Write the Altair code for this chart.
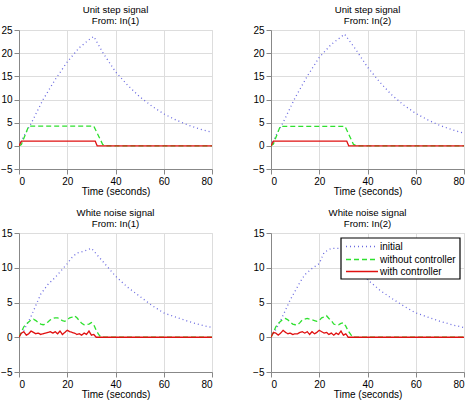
import altair as alt
import pandas as pd

FONT = "Liberation Sans"
SERIES = ["initial", "without controller", "with controller"]

# ---- Unit step, In(1)
s1_init_t = [0, 2, 5, 10, 15, 20, 25, 30, 31, 35, 40, 45, 50, 55, 60, 65, 70, 75, 80]
s1_init_y = [0, 2.1, 4.8, 10.0, 14.3, 18.1, 21.2, 23.3, 23.6, 19.9, 16.0, 13.1, 10.6, 8.6, 6.9, 5.6, 4.5, 3.6, 2.9]
s1_wo_t = [0, 1, 4, 31, 34.7, 36, 80]
s1_wo_y = [0, 0.3, 4.25, 4.25, 0.3, 0, 0]
s1_w_t = [0, 1, 31.6, 32.4, 80]
s1_w_y = [0, 1.0, 1.0, 0, 0]

# ---- Unit step, In(2)
s2_init_t = [0, 2, 5, 10, 15, 20, 25, 30.5, 35, 40, 45, 50, 55, 60, 65, 70, 75, 80]
s2_init_y = [0, 2.2, 5.0, 10.4, 15.0, 19.1, 21.9, 24.1, 20.9, 17.0, 13.8, 11.0, 8.8, 7.0, 5.6, 4.4, 3.5, 2.7]
s2_wo_t = [0, 1, 3.8, 30.7, 34.2, 35.5, 80]
s2_wo_y = [0, 0.4, 4.2, 4.2, 0.3, 0, 0]
s2_w_t = [0, 1, 31.4, 32.2, 80]
s2_w_y = [0, 1.0, 1.0, 0, 0]

# ---- White noise, In(1)
n1_init_t = [0, 2, 5, 9, 12, 15, 18, 20, 22, 24, 27, 30, 34, 40, 45, 50, 55, 60, 65, 70, 75, 80]
n1_init_y = [0, 1.0, 3.0, 6.2, 7.6, 8.6, 9.8, 10.6, 11.5, 12.1, 12.4, 12.8, 11.2, 8.8, 7.2, 5.9, 4.6, 3.5, 2.9, 2.3, 1.8, 1.4]
n1_wo_t = [0, 1, 2, 3, 4, 5, 6, 7, 8, 9, 10, 11, 12, 13, 14, 15, 16, 17, 18, 19, 20, 21, 22, 23, 24, 25, 26, 27, 28, 29, 30, 31, 32, 33, 34, 80]
n1_wo_y = [0, 0.8, 1.5, 1.9, 2.2, 2.5, 2.6, 2.4, 2.1, 1.9, 1.8, 1.9, 2.2, 2.5, 2.7, 2.8, 2.8, 2.6, 2.4, 2.3, 2.5, 2.8, 2.9, 3.1, 2.8, 2.4, 2.0, 1.8, 1.8, 1.9, 2.1, 1.8, 1.0, 0.4, 0, 0]
n1_w_t = [0, 1, 2, 3, 4, 5, 6, 7, 8, 9, 10, 11, 12, 13, 14, 15, 16, 17, 18, 19, 20, 21, 22, 23, 24, 25, 26, 27, 28, 29, 30, 31, 32, 80]
n1_w_y = [0, 0.6, 0.8, 0.3, 0.5, 0.9, 0.7, 0.5, 0.6, 0.4, 0.5, 0.6, 0.7, 0.8, 0.6, 0.8, 0.5, 0.9, 0.4, 0.7, 1.0, 0.8, 0.7, 0.6, 0.4, 0.5, 0.3, 0.6, 0.4, 0.9, 0.3, 0.4, 0.0, 0.0]

# ---- White noise, In(2)
n2_init_t = [0, 2, 4, 8, 12, 14, 17, 20, 22, 25, 29, 34, 40, 45, 50, 55, 60, 65, 70, 75, 80]
n2_init_y = [0, 1.1, 2.4, 5.4, 7.9, 9.0, 9.9, 10.6, 12.2, 12.8, 12.8, 11.0, 8.3, 6.8, 5.6, 4.5, 3.5, 2.9, 2.3, 1.8, 1.4]
n2_wo_t = [0, 1, 2, 3, 4, 5, 6, 7, 8, 9, 10, 11, 12, 13, 14, 15, 16, 17, 18, 19, 20, 21, 22, 23, 24, 25, 26, 27, 28, 29, 30, 31, 32, 33, 34, 80]
n2_wo_y = [0, 0.7, 1.5, 2.0, 2.3, 2.6, 2.7, 2.5, 2.2, 1.9, 1.8, 1.8, 2.1, 2.5, 2.6, 2.7, 2.6, 2.5, 2.4, 2.3, 2.4, 2.8, 2.9, 3.1, 2.7, 2.4, 1.9, 1.8, 1.8, 2.0, 2.1, 1.6, 0.9, 0.4, 0, 0]
n2_w_t = [0, 1, 2, 3, 4, 5, 6, 7, 8, 9, 10, 11, 12, 13, 14, 15, 16, 17, 18, 19, 20, 21, 22, 23, 24, 25, 26, 27, 28, 29, 30, 31, 32, 80]
n2_w_y = [0, 0.7, 0.6, 0.3, 0.6, 1.0, 0.7, 0.5, 0.6, 0.4, 0.5, 0.5, 0.7, 0.8, 0.6, 0.8, 0.4, 0.8, 0.5, 0.7, 1.0, 0.8, 0.6, 0.7, 0.4, 0.6, 0.3, 0.6, 0.4, 0.9, 0.3, 0.5, 0.0, 0.0]

x_ticks = [0, 20, 40, 60, 80]
y_ticks_step = [-5, 0, 5, 10, 15, 20, 25]
y_ticks_noise = [-5, 0, 5, 10, 15]

COLORS = ["#6a6ae0", "#2ee02e", "#e01010"]
DASHES = [[1, 3], [5, 3], [1, 0]]

color_scale = alt.Scale(domain=SERIES, range=COLORS)
dash_scale = alt.Scale(domain=SERIES, range=DASHES)


def frame(ti, yi, tw, yw, tc, yc):
    rows = []
    for name, ts, ys in zip(SERIES, [ti, tw, tc], [yi, yw, yc]):
        for k, (a, b) in enumerate(zip(ts, ys)):
            rows.append({"t": a, "y": b, "series": name, "k": k})
    return pd.DataFrame(rows)


def panel(df, title, yticks):
    return alt.Chart(df).mark_line(strokeWidth=1.3, clip=True).encode(
        x=alt.X("t:Q", scale=alt.Scale(domain=[0, 80], nice=False),
                axis=alt.Axis(values=x_ticks, title="Time (seconds)",
                              titleFont=FONT, titleFontSize=10, titleFontWeight="normal",
                              titleColor="black", titlePadding=0, labelPadding=2)),
        y=alt.Y("y:Q", scale=alt.Scale(domain=[yticks[0], yticks[-1]], nice=False),
                axis=alt.Axis(values=yticks, title=None, labelPadding=2)),
        color=alt.Color("series:N", scale=color_scale, legend=None),
        strokeDash=alt.StrokeDash("series:N", scale=dash_scale, legend=None),
        detail="series:N",
        order="k:Q",
    ).properties(
        width=193, height=139,
        title=alt.TitleParams(title, fontSize=9.6, fontWeight="normal", font=FONT,
                              color="black", offset=-1, lineHeight=11.5),
    )


def legend_layers():
    # legend box + entries, drawn inside the plot area (positions in pixels)
    box = alt.Chart(pd.DataFrame({"series": ["box"]})).mark_rect(
        fill="white", stroke="black", strokeWidth=1.2
    ).encode(x=alt.value(70), x2=alt.value(189), y=alt.value(5), y2=alt.value(46))
    layers = [box]
    row_y = [13.5, 26.5, 38.5]
    for name, yy in zip(SERIES, row_y):
        d = pd.DataFrame({"series": [name]})
        line = alt.Chart(d).mark_rule(strokeWidth=1.3).encode(
            x=alt.value(75), x2=alt.value(107), y=alt.value(yy),
            color=alt.Color("series:N", scale=color_scale, legend=None),
            strokeDash=alt.StrokeDash("series:N", scale=dash_scale, legend=None),
        )
        txt = alt.Chart(d).mark_text(
            align="left", baseline="middle", font=FONT, fontSize=10, color="black"
        ).encode(x=alt.value(109), y=alt.value(yy), text="series:N")
        layers += [line, txt]
    return layers


p1 = panel(frame(s1_init_t, s1_init_y, s1_wo_t, s1_wo_y, s1_w_t, s1_w_y),
           ["Unit step signal", "From: In(1)"], y_ticks_step)
p2 = panel(frame(s2_init_t, s2_init_y, s2_wo_t, s2_wo_y, s2_w_t, s2_w_y),
           ["Unit step signal", "From: In(2)"], y_ticks_step)
p3 = panel(frame(n1_init_t, n1_init_y, n1_wo_t, n1_wo_y, n1_w_t, n1_w_y),
           ["White noise signal", "From: In(1)"], y_ticks_noise)
p4_lines = panel(frame(n2_init_t, n2_init_y, n2_wo_t, n2_wo_y, n2_w_t, n2_w_y),
                 ["White noise signal", "From: In(2)"], y_ticks_noise)
p4 = alt.layer(p4_lines, *legend_layers())

row1 = alt.hconcat(p1, p2, spacing=39)
row2 = alt.hconcat(p3, p4, spacing=39)

chart = alt.vconcat(row1, row2, spacing=10).properties(
    padding={"left": 0, "top": 4, "right": 2, "bottom": 2}
).configure_view(
    stroke="black", strokeWidth=1.5, fill="white"
).configure_axis(
    labelFont=FONT, labelFontSize=10, labelColor="black",
    domain=False, ticks=False,
    grid=True, gridColor="black", gridDash=[1, 3], gridOpacity=0.9, gridWidth=1,
    labelFlush=False,
).configure(background="white")

chart.save("out.html", embed_options={"renderer": "svg", "actions": False})
